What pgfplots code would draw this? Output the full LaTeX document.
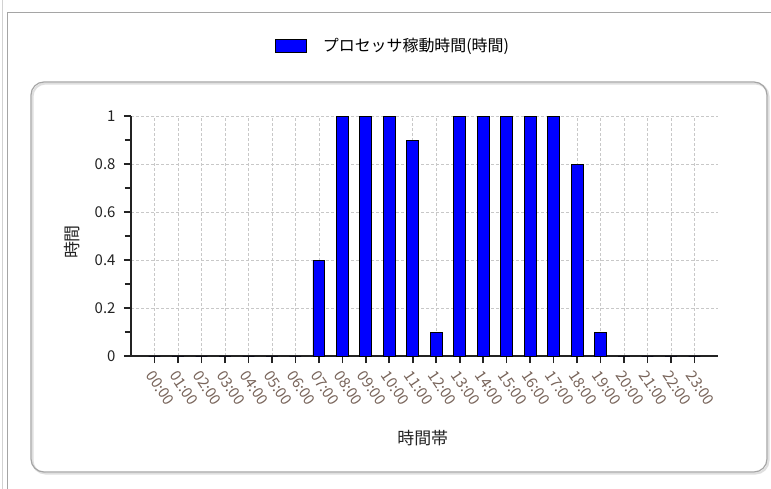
\documentclass[border=0pt]{standalone}
\usepackage{fontspec}
\setmainfont{Noto Sans CJK JP}
\usepackage{pgfplots}
\pgfplotsset{compat=1.18}
\definecolor{barblue}{RGB}{0,0,255}
\definecolor{gridgray}{RGB}{200,200,200}
\definecolor{ticklab}{RGB}{120,100,90}
\definecolor{framegray}{RGB}{165,165,165}
\definecolor{axisdark}{RGB}{35,35,35}
\begin{document}
\begin{tikzpicture}
\path[use as bounding box] (0,0) rectangle (771bp,-489bp);
\fill[white] (0,0) rectangle (771bp,-489bp);
\draw[color=gray!35, line width=0.8bp] (2bp,0) -- (2bp,-489bp);
\draw[framegray, line width=1bp] (7bp,-489bp) -- (7bp,-12bp) -- (771bp,-12bp);
\draw[gray!25, line width=2bp, rounded corners=13bp] (32.5bp,-83.5bp) rectangle (768.5bp,-473.5bp);
\draw[framegray, line width=1.2bp, rounded corners=13bp] (31bp,-82bp) rectangle (767bp,-472bp);
\begin{axis}[
  at={(131bp,-356bp)}, anchor=south west, scale only axis,
  width=587bp, height=240bp,
  xmin=-1, xmax=24, ymin=0, ymax=1,
  axis lines*=left,
  axis line style={axisdark, line width=1.7bp},
  xtick={0,...,23},
  xticklabels={00:00,01:00,02:00,03:00,04:00,05:00,06:00,07:00,08:00,09:00,10:00,11:00,12:00,13:00,14:00,15:00,16:00,17:00,18:00,19:00,20:00,21:00,22:00,23:00},
  ytick={0,0.2,0.4,0.6,0.8,1},
  minor y tick num=1,
  tick align=outside,
  major tick length=7bp, minor tick length=6bp,
  tick style={axisdark, line width=1.6bp},
  xmajorgrids, ymajorgrids,
  grid style={gridgray, dash pattern=on 3bp off 2bp, line width=0.6bp},
  /pgf/number format/assume math mode=true,
  yticklabel style={font=\fontsize{15}{15}\selectfont, text=axisdark, xshift=-5bp},
  xticklabel style={font=\fontsize{15}{15}\selectfont, text=ticklab, rotate=-56, anchor=north west, xshift=2bp},
  xlabel={時間帯}, ylabel={時間},
  xlabel style={at={(axis description cs:0.497,-0.342)}, anchor=center, font=\fontsize{17}{17}\selectfont, text=axisdark},
  ylabel style={at={(axis description cs:-0.1005,0.475)}, anchor=center, font=\fontsize{17}{17}\selectfont, text=axisdark},
  legend style={at={(axis description cs:0.240,1.294)}, anchor=west, draw=none, fill=none,
    font=\fontsize{16}{16}\selectfont, nodes={inner sep=0pt}},
  legend image code/.code={\draw[fill=barblue, draw=black, line width=0.8bp] (0bp,-6.5bp) rectangle (31bp,6.5bp);},
]
\addplot[ybar, bar width=0.5, fill=barblue, draw=black, line width=0.9bp] coordinates {
(0,0) (1,0) (2,0) (3,0) (4,0) (5,0) (6,0) (7,0.4) (8,1) (9,1) (10,1) (11,0.9)
(12,0.1) (13,1) (14,1) (15,1) (16,1) (17,1) (18,0.8) (19,0.1) (20,0) (21,0) (22,0) (23,0)};
\legend{\hspace*{16bp}プロセッサ稼動時間(時間)}
\end{axis}
\end{tikzpicture}
\end{document}
